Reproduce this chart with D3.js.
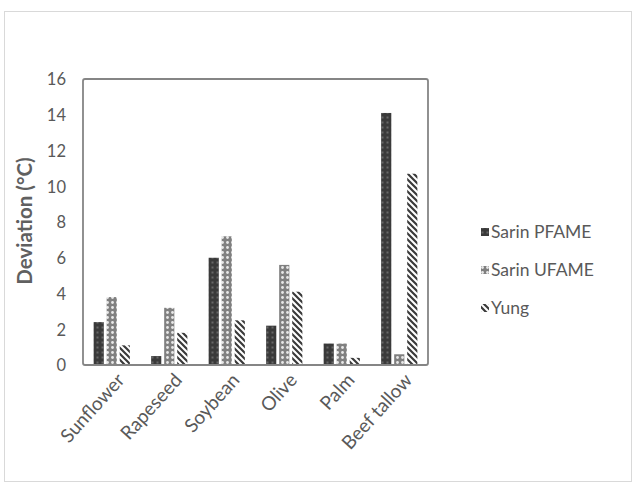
<!DOCTYPE html>
<html><head><meta charset="utf-8">
<script src="https://cdn.jsdelivr.net/npm/d3@7/dist/d3.min.js"></script>
<style>body{margin:0;background:#fff}svg{display:block}</style>
</head><body>
<script>
const categories = ["Sunflower","Rapeseed","Soybean","Olive","Palm","Beef tallow"];
const seriesNames = ["Sarin PFAME","Sarin UFAME","Yung"];
const sarinPFAME = [2.4, 0.5, 6.0, 2.2, 1.2, 14.1];
const sarinUFAME = [3.8, 3.2, 7.2, 5.6, 1.2, 0.6];
const yung = [1.1, 1.8, 2.5, 4.1, 0.4, 10.7];
const yTicks = [0,2,4,6,8,10,12,14,16];

const W=633,H=487;
const svg=d3.select("body").append("svg").attr("width",W).attr("height",H);
const defs=svg.append("defs");
const p1=defs.append("pattern").attr("id","pf").attr("patternUnits","userSpaceOnUse").attr("width",5).attr("height",5);
p1.append("rect").attr("width",5).attr("height",5).attr("fill","#3a3a3a");
p1.append("rect").attr("x",1.5).attr("y",1.5).attr("width",2).attr("height",2).attr("fill","#686868");
const p2=defs.append("pattern").attr("id","uf").attr("patternUnits","userSpaceOnUse").attr("width",5).attr("height",5);
p2.append("rect").attr("width",5).attr("height",5).attr("fill","#808080");
p2.append("circle").attr("cx",2.5).attr("cy",2.5).attr("r",1.4).attr("fill","#e8e8e8");
const p3=defs.append("pattern").attr("id","yu").attr("patternUnits","userSpaceOnUse").attr("width",6).attr("height",6);
p3.append("rect").attr("width",6).attr("height",6).attr("fill","#fff");
p3.append("path").attr("d","M-1,-1 L7,7 M-4,2 L1,7 M2,-4 L10,4").attr("stroke","#3a3a3a").attr("stroke-width",2.2);
const fills=["url(#pf)","url(#uf)","url(#yu)"];

svg.append("rect").attr("x",4.5).attr("y",11.5).attr("width",627).attr("height",470).attr("fill","none").attr("stroke","#d9d9d9");

const x0=d3.scaleBand().domain(categories).range([83,428]).paddingInner(0.37).paddingOuter(0.185);
const x1=d3.scaleBand().domain(seriesNames).range([0,x0.bandwidth()]).paddingInner(0.22);
const y=d3.scaleLinear().domain([0,16]).range([365,79]);

const data=[sarinPFAME,sarinUFAME,yung];
const g=svg.append("g");
categories.forEach((c,i)=>{
  seriesNames.forEach((s,j)=>{
    g.append("rect").attr("x",x0(c)+x1(s)).attr("y",y(data[j][i])).attr("width",x1.bandwidth())
     .attr("height",y(0)-y(data[j][i])).attr("fill",fills[j]);
  });
});

svg.append("rect").attr("x",83).attr("y",79).attr("width",345).attr("height",286).attr("rx",2)
  .attr("fill","none").attr("stroke","#858585").attr("stroke-width",1.8);

const font="Lato, 'Open Sans', sans-serif";
const ya=svg.append("g").attr("transform","translate(66,0)").call(d3.axisLeft(y).tickValues(yTicks).tickSize(0).tickPadding(0));
ya.select(".domain").remove();
ya.selectAll("text").attr("font-family",font).attr("font-size",16.5).attr("fill","#595959").attr("dy","0.35em");

const xa=svg.append("g").attr("transform","translate(0,372)");
categories.forEach(c=>{
  const cx=x0(c)+x0.bandwidth()/2+4;
  xa.append("text").attr("transform",`translate(${cx},0) rotate(-48)`).attr("text-anchor","end")
    .attr("dy","0.7em").attr("font-family",font).attr("font-size",19).attr("fill","#595959").text(c);
});

svg.append("text").attr("transform","translate(32,221) rotate(-90)").attr("text-anchor","middle")
  .attr("font-family",font).attr("font-size",20.5).attr("font-weight","bold").attr("fill","#606060").text("Deviation (°C)");

const ly=[232,270,308];
seriesNames.forEach((s,j)=>{
  svg.append("rect").attr("x",481).attr("y",ly[j]-4).attr("width",8).attr("height",8).attr("fill",fills[j]);
  svg.append("text").attr("x",491).attr("y",ly[j]).attr("dy","0.35em").attr("font-family",font)
    .attr("font-size",17.5).attr("fill","#595959").text(s);
});
</script>
</body></html>
